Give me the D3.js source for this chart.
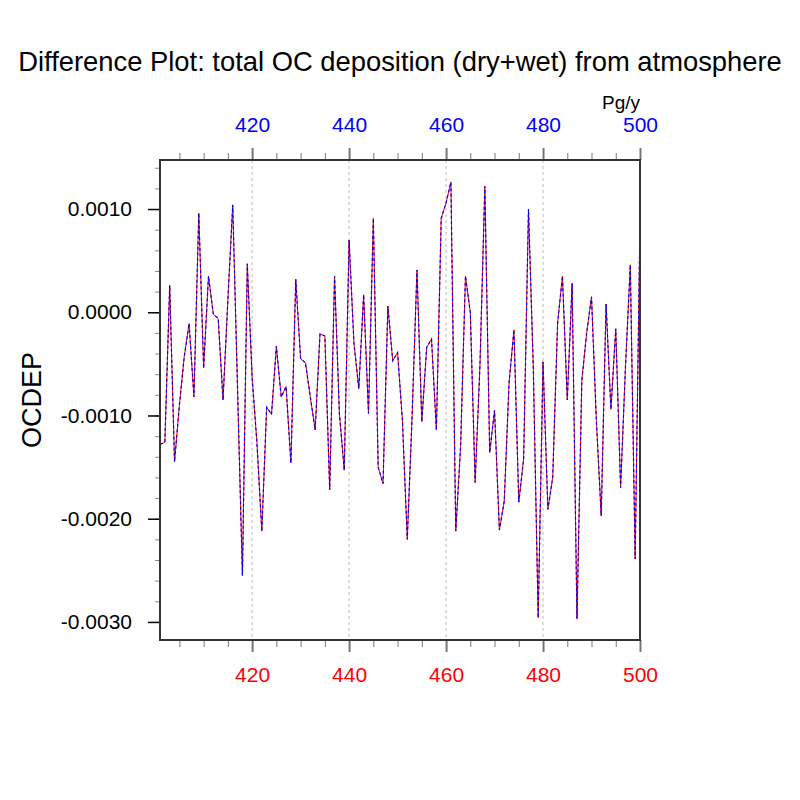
<!DOCTYPE html>
<html lang="en">
  <head>
    <meta charset="utf-8">
    <title>OCDEP difference plot</title>
    <style>
      body { margin: 0; background: #fff; }
    </style>
  </head>
  <body>
    <svg id="canvas"></svg>
    <script src="https://cdn.jsdelivr.net/npm/d3@7"></script>
    <script>

      const width = 800;
      const height = 800;

      // years on the x axis (one point per year)
      const years = d3.range(401, 501);

      // OCDEP difference
      const ocdep = [
        -0.00128, -0.00126, 0.00026, -0.00145, -0.00090, -0.00043, -0.00011, -0.00082, 0.00096, -0.00054,
        0.00035, -0.00002, -0.00006, -0.00085, 0.00012, 0.00104, -0.00075, -0.00255, 0.00047, -0.00063,
        -0.00127, -0.00212, -0.00092, -0.00099, -0.00033, -0.00082, -0.00072, -0.00146, 0.00032, -0.00045,
        -0.00049, -0.00082, -0.00114, -0.00021, -0.00023, -0.00172, 0.00035, -0.00098, -0.00153, 0.00070,
        -0.00030, -0.00074, 0.00017, -0.00098, 0.00091, -0.00150, -0.00166, 0.00006, -0.00047, -0.00039,
        -0.00105, -0.00220, -0.00100, 0.00041, -0.00106, -0.00034, -0.00026, -0.00114, 0.00091, 0.00106,
        0.00126, -0.00212, -0.00130, 0.00035, 0.00000, -0.00165, -0.00050, 0.00122, -0.00136, -0.00095,
        -0.00211, -0.00183, -0.00068, -0.00017, -0.00184, -0.00142, 0.00100, -0.00055, -0.00296, -0.00048,
        -0.00191, -0.00160, -0.00011, 0.00035, -0.00085, 0.00028, -0.00297, -0.00066, -0.00020, 0.00015,
        -0.00105, -0.00197, 0.00008, -0.00094, -0.00016, -0.00170, -0.00053, 0.00046, -0.00239, 0.00089
      ];

      const xMajorTicks = [420, 440, 460, 480, 500];
      const xMinorTicks = d3.range(405, 501, 5);
      const yMajorTicks = [-0.003, -0.002, -0.001, 0, 0.001];
      const yMinorTicks = d3.range(-0.0030, 0.00141, 0.0002);

      const titleText = "Difference Plot: total OC deposition (dry+wet) from atmosphere";
      const yLabel = "OCDEP";
      const unitsLabel = "Pg/y";

      const plot = { left: 160, right: 640, top: 160, bottom: 640 };
      const fontFamily = "'Liberation Sans', Arial, Helvetica, sans-serif";

      const svg = d3.select("#canvas")
        .attr("width", width)
        .attr("height", height)
        .attr("viewBox", [0, 0, width, height])
        .style("font-family", fontFamily);

      svg.append("rect")
        .attr("width", width)
        .attr("height", height)
        .attr("fill", "#fff");

      const x = d3.scaleLinear()
        .domain([401, 500])
        .range([plot.left, plot.right]);

      const y = d3.scaleLinear()
        .domain([-0.003175, 0.001475])
        .range([plot.bottom, plot.top]);

      // dashed vertical grid at the major x ticks
      svg.append("g")
        .selectAll("line")
        .data(xMajorTicks.filter(d => d < 500))
        .join("line")
          .attr("x1", d => x(d))
          .attr("x2", d => x(d))
          .attr("y1", plot.top)
          .attr("y2", plot.bottom)
          .attr("stroke", "#bbb")
          .attr("stroke-width", 1)
          .attr("stroke-dasharray", "3,3");

      // x axes: minor + major ticks, bottom (red labels) and top (blue labels)
      function xAxis(axisFn, yPos, labelColor) {
        const minor = svg.append("g")
          .attr("transform", `translate(0,${yPos})`)
          .call(axisFn(x).tickValues(xMinorTicks).tickSize(7).tickFormat(""));
        minor.select(".domain").remove();
        minor.selectAll("line").attr("stroke", "#777").attr("stroke-width", 1);

        const major = svg.append("g")
          .attr("transform", `translate(0,${yPos})`)
          .call(axisFn(x).tickValues(xMajorTicks).tickSize(12).tickPadding(6).tickFormat(d3.format("d")));
        major.select(".domain").remove();
        major.selectAll("line").attr("stroke", "#777").attr("stroke-width", 2);
        major.selectAll("text")
          .attr("fill", labelColor)
          .style("font-family", fontFamily)
          .style("font-size", "21px");
        return major;
      }

      const bottomAxis = xAxis(d3.axisBottom, plot.bottom, "red");
      bottomAxis.selectAll("text").attr("dy", null).attr("y", 42);

      const topAxis = xAxis(d3.axisTop, plot.top, "blue");
      topAxis.selectAll("text").attr("y", -28);

      // y axis on the left, plain hyphen for negatives
      const yFormat = d => d3.format(".4f")(d).replace("\u2212", "-");

      const yMinor = svg.append("g")
        .attr("transform", `translate(${plot.left},0)`)
        .call(d3.axisLeft(y).tickValues(yMinorTicks).tickSize(5).tickFormat(""));
      yMinor.select(".domain").remove();
      yMinor.selectAll("line").attr("stroke", "#888").attr("stroke-width", 1);

      const yMajor = svg.append("g")
        .attr("transform", `translate(${plot.left},0)`)
        .call(d3.axisLeft(y).tickValues(yMajorTicks).tickSize(12).tickPadding(16).tickFormat(yFormat));
      yMajor.select(".domain").remove();
      yMajor.selectAll("line").attr("stroke", "#000").attr("stroke-width", 1.5);
      yMajor.selectAll("text")
        .attr("fill", "#000")
        .style("font-family", fontFamily)
        .style("font-size", "21px");

      // the two lines on top of each other
      const line = d3.line()
        .x((d, i) => x(years[i]))
        .y(d => y(d));

      svg.append("path")
        .datum(ocdep)
        .attr("d", line)
        .attr("fill", "none")
        .attr("stroke", "red")
        .attr("stroke-width", 1);

      svg.append("path")
        .datum(ocdep)
        .attr("d", line)
        .attr("fill", "none")
        .attr("stroke", "blue")
        .attr("stroke-width", 1.2)
        .attr("stroke-dasharray", "3,2.5");

      // frame
      svg.append("rect")
        .attr("x", plot.left)
        .attr("y", plot.top)
        .attr("width", plot.right - plot.left)
        .attr("height", plot.bottom - plot.top)
        .attr("fill", "none")
        .attr("stroke", "#333")
        .attr("stroke-width", 2);

      // title, fitted to the width it has in the picture
      const title = svg.append("text")
        .attr("x", width / 2)
        .attr("y", 71)
        .attr("text-anchor", "middle")
        .attr("font-size", 24)
        .attr("fill", "#000")
        .text(titleText);
      const titleLen = title.node().getComputedTextLength();
      title.attr("font-size", 24 * 764 / titleLen);

      svg.append("text")
        .attr("transform", `translate(41,400) rotate(-90)`)
        .attr("text-anchor", "middle")
        .attr("font-size", 27)
        .attr("fill", "#000")
        .text(yLabel);

      svg.append("text")
        .attr("x", plot.right)
        .attr("y", 109)
        .attr("text-anchor", "end")
        .attr("font-size", 19)
        .attr("fill", "#000")
        .text(unitsLabel);

    </script>
  </body>
</html>
